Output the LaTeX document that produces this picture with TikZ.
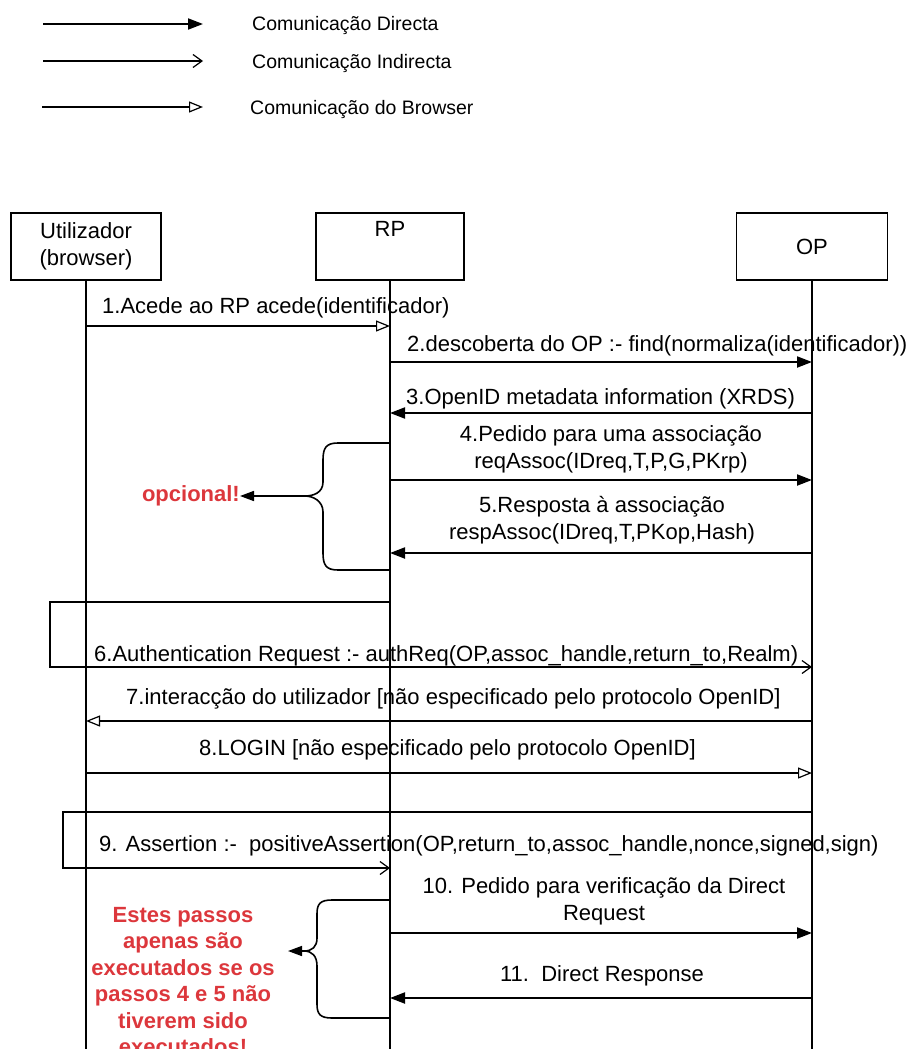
\documentclass[tikz,border=0pt]{standalone}
\usepackage{fontspec}
\setmainfont{Liberation Sans}
\usepackage{xcolor}
\usetikzlibrary{arrows.meta}
\definecolor{notered}{RGB}{220,55,60}

\begin{document}
\begin{tikzpicture}[x=1pt, y=-1pt,
        actor/.style = {draw, line width=1.3pt, minimum width=150pt, minimum height=67pt, align=center, font=\fontsize{22}{27}\selectfont},
        msg/.style = {font=\fontsize{22}{27}\selectfont, align=center, inner sep=0pt},
        legendtext/.style = {font=\fontsize{19.5}{23}\selectfont, anchor=base west, inner sep=0pt},
        note/.style = {text=notered, font=\bfseries\fontsize{22}{26.5}\selectfont, align=center, inner sep=0pt},
        direct/.style = {line width=2pt, -{Triangle[length=15pt,width=11pt]}},
        indirect/.style = {line width=1.2pt, -{Straight Barb[length=9pt,width=13pt]}},
        browser/.style = {line width=1.2pt, -{Triangle[open,length=14pt,width=11pt]}},
        brace/.style = {line width=1.6pt}
        ]
        \useasboundingbox (0,0) rectangle (917,1049);
        % legenda
        \coordinate (d1) at (43,24);
        \coordinate (d2) at (203,24);
        \coordinate (i1) at (43,61);
        \coordinate (i2) at (203,61);
        \coordinate (b1) at (42,107);
        \coordinate (b2) at (203,107);
        \draw[direct] (d1) -- (d2);
        \draw[indirect] (i1) -- (i2);
        \draw[browser] (b1) -- (b2);
        \node (ld) [legendtext] at (252,31) {Comunicação Directa};
        \node (li) [legendtext] at (252,68) {Comunicação Indirecta};
        \node (lb) [legendtext] at (250,114) {Comunicação do Browser};

        % actores e linhas de vida
        \node (user) [actor] at (86,246.5) {Utilizador\\(browser)};
        \node (rp) [actor, minimum width=148pt] at (390,246.5) {RP\\\strut};
        \node (op) [actor, minimum width=151pt] at (812,246.5) {OP};
        \coordinate (bottom) at (0,1049);
        \draw[line width=1.3pt] (user.south) -- (user.south |- bottom);
        \draw[line width=1.3pt] (rp.south) -- (rp.south |- bottom);
        \draw[line width=1.3pt] (op.south) -- (op.south |- bottom);

        \foreach \n/\y in {1/326, 2/362, 3/413, 4/480, 5/553, 6/667, 7/721, 8/773, 9/868, 10/933, 11/998} {
            \coordinate (u\n) at (user.south |- 0,\y);
            \coordinate (r\n) at (rp.south |- 0,\y);
            \coordinate (o\n) at (op.south |- 0,\y);
        }
        \coordinate (r6a) at (rp.south |- 0,602);
        \coordinate (o9a) at (op.south |- 0,812);

        % mensagens
        \draw[browser] (u1) -- (r1);
        \draw[direct] (r2) -- (o2);
        \draw[direct] (o3) -- (r3);
        \draw[direct] (r4) -- (o4);
        \draw[direct] (o5) -- (r5);
        \draw[indirect] (r6a) -- ++(-340,0) |- (o6);
        \draw[browser] (o7) -- (u7);
        \draw[browser] (u8) -- (o8);
        \draw[indirect] (o9a) -- ++(-749,0) |- (r9);
        \draw[direct] (r10) -- (o10);
        \draw[direct] (o11) -- (r11);

        \node (t1) [msg, anchor=base west] at (102,313) {1.Acede ao RP acede(identificador)};
        \node (t2) [msg, anchor=base west] at (407,351) {2.descoberta do OP :- find(normaliza(identificador))};
        \node (t3) [msg, anchor=base west] at (406,404) {3.OpenID metadata information (XRDS)};
        \node (t4) [msg] at (611,449) {4.Pedido para uma associação\\reqAssoc(IDreq,T,P,G,PKrp)};
        \node (t5) [msg] at (602,520) {5.Resposta à associação\\respAssoc(IDreq,T,PKop,Hash)};
        \node (t6) [msg, anchor=base west] at (94,661) {6.Authentication Request :- authReq(OP,assoc\_handle,return\_to,Realm)};
        \node (t7) [msg, anchor=base west] at (126,704) {7.interacção do utilizador [não especificado pelo protocolo OpenID]};
        \node (t8) [msg, anchor=base west] at (199,755) {8.LOGIN [não especificado pelo protocolo OpenID]};
        \node (t9) [msg, anchor=base west] at (99,851) {9. Assertion :-\ \ positiveAssertion(OP,return\_to,assoc\_handle,nonce,signed,sign)};
        \node (t10) [msg] at (604,901) {10. Pedido para verificação da Direct\\Request};
        \node (t11) [msg, anchor=base] at (602,981) {11.\ \ Direct Response};

        % chavetas
        \coordinate (c1t) at (rp.south |- 0,443);
        \coordinate (c1b) at (rp.south |- 0,570);
        \node (opc) [note, anchor=east] at (240,496) {opcional!};
        \draw[brace, -{Triangle[length=14pt,width=10pt]}] (c1t) -- (338,443) .. controls (326,443) and (323,448) .. (323,460) -- (323,482) .. controls (323,493) and (313,496) .. (305,496) -- (opc.east);
        \draw[brace] (c1b) -- (338,570) .. controls (326,570) and (323,565) .. (323,553) -- (323,512) .. controls (323,501) and (313,496) .. (305,496);

        \coordinate (c2t) at (rp.south |- 0,900);
        \coordinate (c2b) at (rp.south |- 0,1018);
        \coordinate (tip2) at (288,951);
        \node (cond) [note] at (183,981) {Estes passos\\apenas são\\executados se os\\passos 4 e 5 não\\tiverem sido\\executados!};
        \draw[brace, -{Triangle[length=14pt,width=10pt]}] (c2t) -- (332,900) .. controls (320,900) and (317,904) .. (317,914) -- (317,938) .. controls (317,947) and (312,951) .. (304,951) -- (tip2);
        \draw[brace] (c2b) -- (332,1018) .. controls (320,1018) and (317,1014) .. (317,1004) -- (317,966) .. controls (317,956) and (312,951) .. (304,951);
        \end{tikzpicture}
\end{document}
